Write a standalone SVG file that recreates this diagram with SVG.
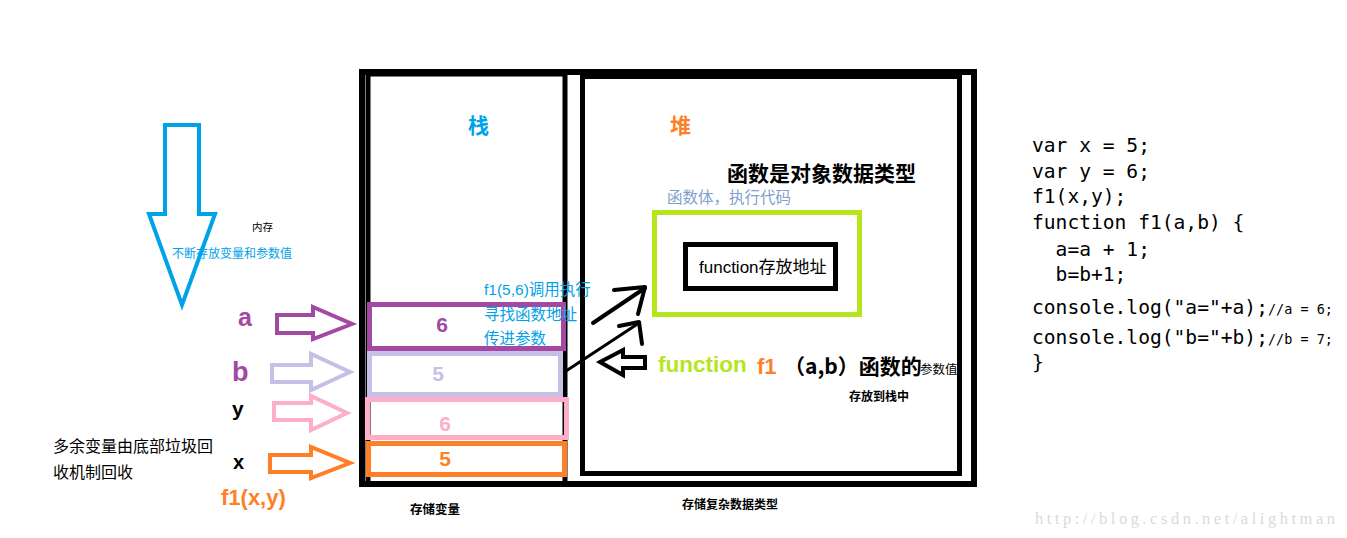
<svg xmlns="http://www.w3.org/2000/svg" width="1347" height="538" viewBox="0 0 1347 538">
<style>
text{font-family:"Liberation Sans","Noto Sans CJK SC",sans-serif}
.cj{font-family:"Noto Sans CJK SC",sans-serif}
.code{font-family:"DejaVu Sans Mono","Liberation Mono",monospace;font-size:19.6px;fill:#000}
.box{fill:none;stroke-width:5}
.blk{fill:none;stroke:#000}
.hol{fill:#fff;stroke-width:4;stroke-linejoin:miter}
.b{font-weight:bold}
.blue{fill:#00a2e8}
</style>
<rect width="1347" height="538" fill="#fff"/>

<g id="memory-arrow">
<polygon class="hol" stroke="#00a2e8" points="165,125 199,125 199,214 215,214 182,305 149,214 165,214"/>
<text x="252" y="231" font-size="10.5" class="cj">内存</text>
<text x="172" y="258" font-size="12" class="cj blue">不断存放变量和参数值</text>
</g>

<g id="containers">
<rect class="blk" x="362" y="72" width="612" height="412" stroke-width="6"/>
<rect class="blk" x="368" y="74" width="197" height="410" stroke-width="5"/>
<rect class="blk" x="582.5" y="76.5" width="377" height="397" stroke-width="5"/>
<text x="468" y="133" font-size="21" class="cj b blue">栈</text>
<text x="670" y="133" font-size="21" class="cj b" fill="#ff7f27">堆</text>
<text x="410" y="514" font-size="12.5" class="cj b">存储变量</text>
<text x="682" y="509" font-size="12" class="cj b">存储复杂数据类型</text>
</g>

<g id="stack-a">
<rect class="box" stroke="#a349a4" x="369.5" y="304.5" width="194" height="44"/>
<text x="442" y="332" font-size="21" class="b" fill="#a349a4" text-anchor="middle">6</text>
</g>
<g id="stack-b">
<rect class="box" stroke="#c8bfe7" x="369.5" y="353.5" width="191" height="41"/>
<text x="438" y="381" font-size="21" class="b" fill="#c8bfe7" text-anchor="middle">5</text>
</g>
<g id="stack-y">
<rect class="box" stroke="#ffaec9" x="367.5" y="399.5" width="199" height="38"/>
<text x="445" y="431" font-size="21" class="b" fill="#ffaec9" text-anchor="middle">6</text>
</g>
<g id="stack-x">
<rect class="box" stroke="#ff7f27" x="368.5" y="443.5" width="196" height="31"/>
<text x="445" y="466" font-size="21" class="b" fill="#ff7f27" text-anchor="middle">5</text>
</g>

<g id="labels-left">
<text x="238" y="326" font-size="25" class="b" fill="#a349a4">a</text>
<text x="232" y="381" font-size="27" class="b" fill="#a349a4">b</text>
<text x="232" y="416" font-size="21" class="b">y</text>
<text x="233" y="469" font-size="20" class="b">x</text>
<text x="221" y="505" font-size="22" class="b" fill="#ff7f27">f1(x,y)</text>
<text x="53" y="452" font-size="16" class="cj">多余变量由底部垃圾回</text>
<text x="53" y="478" font-size="16" class="cj">收机制回收</text>
</g>

<g id="heap-function">
<text x="727" y="181" font-size="21" class="cj b">函数是对象数据类型</text>
<text x="667" y="203" font-size="15.5" class="cj" fill="#7f9fcf">函数体，执行代码</text>
<rect class="box" stroke="#b5e61d" x="654.5" y="212.5" width="205" height="102"/>
<rect class="blk" stroke-width="5" x="685.5" y="244.5" width="150" height="44"/>
<text x="699" y="273" font-size="17">function存放地址</text>
<text x="658" y="372" font-size="22.5" class="b" fill="#b5e61d">function</text>
<text x="757" y="374" font-size="22" class="b" fill="#ff7f27">f1</text>
<text x="784" y="374" font-size="21" class="cj b">（a,b）函数的</text>
<text x="920" y="374" font-size="12.5" class="cj">参数值</text>
<text x="849" y="401" font-size="12" class="cj b">存放到栈中</text>
</g>

<g id="call-notes">
<text x="484" y="295" font-size="15.5" class="blue">f1(5,6)调用执行</text>
<text x="484" y="320" font-size="15.5" class="cj blue">寻找函数地址</text>
<text x="484" y="344" font-size="15.5" class="cj blue">传进参数</text>
</g>

<g id="code">
<text class="code" x="1032" y="152">var x = 5;</text>
<text class="code" x="1032" y="178">var y = 6;</text>
<text class="code" x="1032" y="203">f1(x,y);</text>
<text class="code" x="1032" y="229">function f1(a,b) {</text>
<text class="code" x="1032" y="256" xml:space="preserve">  a=a + 1;</text>
<text class="code" x="1032" y="281" xml:space="preserve">  b=b+1;</text>
<text class="code" x="1032" y="314">console.log("a="+a);<tspan font-size="13.5">//a = 6;</tspan></text>
<text class="code" x="1032" y="344">console.log("b="+b);<tspan font-size="13.5">//b = 7;</tspan></text>
<text class="code" x="1032" y="369">}</text>
</g>

<g id="connectors" fill="none" stroke-width="4" stroke-linecap="round" stroke-linejoin="round">
<polygon class="hol" stroke="#a349a4" points="277,315 313,315 313,307 352,324 313,339 313,333 277,333"/>
<polygon class="hol" stroke="#c8bfe7" points="272,365 311,365 311,354 350,372 311,390 311,382 272,382"/>
<polygon class="hol" stroke="#ffaec9" points="274,403 311,403 311,396 347,413 311,430 311,420 274,420"/>
<polygon class="hol" stroke="#ff7f27" points="270,455 311,455 311,447 350,463 311,478 311,472 270,472"/>
<polyline stroke="#000" points="593,323 645,288"/>
<polyline stroke="#000" points="614,290 645,287 638,314"/>
<polyline stroke="#000" stroke-width="3" points="566,371 639,323"/>
<polyline stroke="#000" points="619,326 639,322 642,344"/>
<polygon class="hol" stroke="#000" points="600,362 623,350 623,357 645,357 645,368 623,368 623,375"/>
</g>

<text x="1035" y="524" font-size="16.5" style="font-family:'Liberation Serif',serif" fill="#dcdad4" textLength="300">http://blog.csdn.net/alightman</text>
</svg>
